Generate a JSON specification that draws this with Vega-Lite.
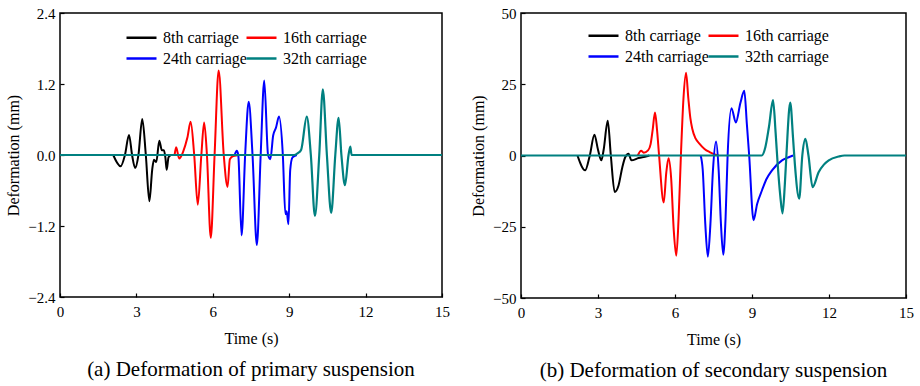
{
  "$schema": "https://vega.github.io/schema/vega-lite/v6.json",
  "background": "white",
  "padding": {"left": 5, "right": 5, "top": 5, "bottom": 5},
  "spacing": 18,
  "datasets": {
    "a": [
      {"c": "8th carriage", "t": 2.09, "v": 0},
      {"c": "8th carriage", "t": 2.38, "v": -0.19},
      {"c": "8th carriage", "t": 2.55, "v": 0},
      {"c": "8th carriage", "t": 2.71, "v": 0.34},
      {"c": "8th carriage", "t": 2.83, "v": 0},
      {"c": "8th carriage", "t": 2.95, "v": -0.22},
      {"c": "8th carriage", "t": 3.08, "v": 0},
      {"c": "8th carriage", "t": 3.23, "v": 0.61},
      {"c": "8th carriage", "t": 3.37, "v": 0},
      {"c": "8th carriage", "t": 3.51, "v": -0.78},
      {"c": "8th carriage", "t": 3.62, "v": -0.25},
      {"c": "8th carriage", "t": 3.69, "v": -0.08},
      {"c": "8th carriage", "t": 3.78, "v": -0.12},
      {"c": "8th carriage", "t": 3.9, "v": 0.24},
      {"c": "8th carriage", "t": 4.0, "v": 0.08},
      {"c": "8th carriage", "t": 4.08, "v": 0.08},
      {"c": "8th carriage", "t": 4.14, "v": -0.05},
      {"c": "8th carriage", "t": 4.19, "v": -0.25},
      {"c": "8th carriage", "t": 4.26, "v": -0.04},
      {"c": "8th carriage", "t": 4.35, "v": 0},
      {"c": "16th carriage", "t": 4.5, "v": 0},
      {"c": "16th carriage", "t": 4.56, "v": 0.13},
      {"c": "16th carriage", "t": 4.68, "v": -0.06},
      {"c": "16th carriage", "t": 4.83, "v": 0.05},
      {"c": "16th carriage", "t": 5.0, "v": 0.29},
      {"c": "16th carriage", "t": 5.13, "v": 0.56},
      {"c": "16th carriage", "t": 5.27, "v": 0},
      {"c": "16th carriage", "t": 5.41, "v": -0.84},
      {"c": "16th carriage", "t": 5.55, "v": 0},
      {"c": "16th carriage", "t": 5.66, "v": 0.55},
      {"c": "16th carriage", "t": 5.77, "v": 0},
      {"c": "16th carriage", "t": 5.92, "v": -1.4},
      {"c": "16th carriage", "t": 6.07, "v": 0},
      {"c": "16th carriage", "t": 6.23, "v": 1.43},
      {"c": "16th carriage", "t": 6.43, "v": 0},
      {"c": "16th carriage", "t": 6.58, "v": -0.54},
      {"c": "16th carriage", "t": 6.67, "v": -0.07},
      {"c": "16th carriage", "t": 6.8, "v": -0.02},
      {"c": "16th carriage", "t": 7.05, "v": 0},
      {"c": "24th carriage", "t": 6.86, "v": 0},
      {"c": "24th carriage", "t": 6.94, "v": 0.07},
      {"c": "24th carriage", "t": 7.0, "v": 0},
      {"c": "24th carriage", "t": 7.13, "v": -1.36},
      {"c": "24th carriage", "t": 7.27, "v": 0},
      {"c": "24th carriage", "t": 7.41, "v": 0.9},
      {"c": "24th carriage", "t": 7.56, "v": 0},
      {"c": "24th carriage", "t": 7.73, "v": -1.52},
      {"c": "24th carriage", "t": 7.88, "v": 0},
      {"c": "24th carriage", "t": 8.02, "v": 1.26},
      {"c": "24th carriage", "t": 8.17, "v": 0},
      {"c": "24th carriage", "t": 8.26, "v": -0.07},
      {"c": "24th carriage", "t": 8.37, "v": 0.33},
      {"c": "24th carriage", "t": 8.48, "v": 0.46},
      {"c": "24th carriage", "t": 8.6, "v": 0.65},
      {"c": "24th carriage", "t": 8.75, "v": 0},
      {"c": "24th carriage", "t": 8.85, "v": -1.0},
      {"c": "24th carriage", "t": 8.9, "v": -0.95},
      {"c": "24th carriage", "t": 8.97, "v": -1.17},
      {"c": "24th carriage", "t": 9.04, "v": -0.25},
      {"c": "24th carriage", "t": 9.13, "v": -0.04},
      {"c": "24th carriage", "t": 9.3, "v": 0},
      {"c": "32th carriage", "t": 0, "v": 0},
      {"c": "32th carriage", "t": 9.2, "v": 0},
      {"c": "32th carriage", "t": 9.34, "v": 0.03},
      {"c": "32th carriage", "t": 9.47, "v": 0.09},
      {"c": "32th carriage", "t": 9.69, "v": 0.65},
      {"c": "32th carriage", "t": 9.85, "v": 0},
      {"c": "32th carriage", "t": 10.01, "v": -1.03},
      {"c": "32th carriage", "t": 10.18, "v": 0},
      {"c": "32th carriage", "t": 10.32, "v": 1.11},
      {"c": "32th carriage", "t": 10.48, "v": 0},
      {"c": "32th carriage", "t": 10.65, "v": -0.98},
      {"c": "32th carriage", "t": 10.81, "v": 0},
      {"c": "32th carriage", "t": 10.94, "v": 0.63},
      {"c": "32th carriage", "t": 11.05, "v": 0},
      {"c": "32th carriage", "t": 11.19, "v": -0.51},
      {"c": "32th carriage", "t": 11.33, "v": 0},
      {"c": "32th carriage", "t": 11.4, "v": 0.14},
      {"c": "32th carriage", "t": 11.45, "v": 0},
      {"c": "32th carriage", "t": 15, "v": 0}
    ],
    "b": [
      {"c": "8th carriage", "t": 2.2, "v": 0},
      {"c": "8th carriage", "t": 2.5, "v": -5.2},
      {"c": "8th carriage", "t": 2.68, "v": 0},
      {"c": "8th carriage", "t": 2.86, "v": 7.3},
      {"c": "8th carriage", "t": 3.0, "v": 2},
      {"c": "8th carriage", "t": 3.13, "v": -1.7},
      {"c": "8th carriage", "t": 3.22, "v": 2},
      {"c": "8th carriage", "t": 3.38, "v": 12.2},
      {"c": "8th carriage", "t": 3.5, "v": 0},
      {"c": "8th carriage", "t": 3.65, "v": -12.8},
      {"c": "8th carriage", "t": 3.8, "v": -10.5},
      {"c": "8th carriage", "t": 3.95, "v": -4},
      {"c": "8th carriage", "t": 4.06, "v": -0.6},
      {"c": "8th carriage", "t": 4.19, "v": 0.6},
      {"c": "8th carriage", "t": 4.3, "v": -1.7},
      {"c": "8th carriage", "t": 4.58, "v": -0.9},
      {"c": "8th carriage", "t": 4.9, "v": -0.3},
      {"c": "8th carriage", "t": 5.0, "v": 0},
      {"c": "16th carriage", "t": 4.55, "v": 0},
      {"c": "16th carriage", "t": 4.68, "v": 1.7},
      {"c": "16th carriage", "t": 4.78, "v": 1.0},
      {"c": "16th carriage", "t": 4.95, "v": 1.8},
      {"c": "16th carriage", "t": 5.05, "v": 4},
      {"c": "16th carriage", "t": 5.13, "v": 9},
      {"c": "16th carriage", "t": 5.22, "v": 15.1},
      {"c": "16th carriage", "t": 5.3, "v": 9},
      {"c": "16th carriage", "t": 5.38, "v": 0},
      {"c": "16th carriage", "t": 5.56, "v": -16.5},
      {"c": "16th carriage", "t": 5.66, "v": -6},
      {"c": "16th carriage", "t": 5.75, "v": -1.0},
      {"c": "16th carriage", "t": 5.85, "v": -8},
      {"c": "16th carriage", "t": 5.95, "v": -26},
      {"c": "16th carriage", "t": 6.05, "v": -35.2},
      {"c": "16th carriage", "t": 6.14, "v": -22},
      {"c": "16th carriage", "t": 6.23, "v": 0},
      {"c": "16th carriage", "t": 6.33, "v": 20},
      {"c": "16th carriage", "t": 6.43, "v": 29},
      {"c": "16th carriage", "t": 6.52, "v": 20},
      {"c": "16th carriage", "t": 6.6, "v": 13},
      {"c": "16th carriage", "t": 6.67, "v": 9.5},
      {"c": "16th carriage", "t": 6.8, "v": 6},
      {"c": "16th carriage", "t": 6.95, "v": 4.2},
      {"c": "16th carriage", "t": 7.15, "v": 2.3},
      {"c": "16th carriage", "t": 7.35, "v": 1.2},
      {"c": "16th carriage", "t": 7.55, "v": 0.4},
      {"c": "16th carriage", "t": 7.7, "v": 0},
      {"c": "24th carriage", "t": 7.0, "v": 0},
      {"c": "24th carriage", "t": 7.08, "v": -5},
      {"c": "24th carriage", "t": 7.18, "v": -24},
      {"c": "24th carriage", "t": 7.28, "v": -35.5},
      {"c": "24th carriage", "t": 7.38, "v": -24},
      {"c": "24th carriage", "t": 7.48, "v": -5},
      {"c": "24th carriage", "t": 7.6, "v": 4.9},
      {"c": "24th carriage", "t": 7.7, "v": -5},
      {"c": "24th carriage", "t": 7.79, "v": -24},
      {"c": "24th carriage", "t": 7.88, "v": -34.8},
      {"c": "24th carriage", "t": 7.97, "v": -22},
      {"c": "24th carriage", "t": 8.05, "v": 0},
      {"c": "24th carriage", "t": 8.2, "v": 16.6},
      {"c": "24th carriage", "t": 8.37, "v": 11.6},
      {"c": "24th carriage", "t": 8.55, "v": 18.5},
      {"c": "24th carriage", "t": 8.7, "v": 22.7},
      {"c": "24th carriage", "t": 8.8, "v": 11},
      {"c": "24th carriage", "t": 8.89, "v": 0},
      {"c": "24th carriage", "t": 9.06, "v": -22.7},
      {"c": "24th carriage", "t": 9.2, "v": -17},
      {"c": "24th carriage", "t": 9.39, "v": -12.2},
      {"c": "24th carriage", "t": 9.55, "v": -8.5},
      {"c": "24th carriage", "t": 9.78, "v": -5.2},
      {"c": "24th carriage", "t": 10.17, "v": -1.7},
      {"c": "24th carriage", "t": 10.43, "v": -0.6},
      {"c": "24th carriage", "t": 10.6, "v": 0},
      {"c": "32th carriage", "t": 0, "v": 0},
      {"c": "32th carriage", "t": 9.38, "v": 0},
      {"c": "32th carriage", "t": 9.52, "v": 2.9},
      {"c": "32th carriage", "t": 9.66, "v": 10},
      {"c": "32th carriage", "t": 9.82, "v": 19.4},
      {"c": "32th carriage", "t": 9.92, "v": 8},
      {"c": "32th carriage", "t": 10.0, "v": -3},
      {"c": "32th carriage", "t": 10.1, "v": -14},
      {"c": "32th carriage", "t": 10.19, "v": -20.3},
      {"c": "32th carriage", "t": 10.28, "v": -10},
      {"c": "32th carriage", "t": 10.34, "v": 0},
      {"c": "32th carriage", "t": 10.49, "v": 18.6},
      {"c": "32th carriage", "t": 10.6, "v": 6},
      {"c": "32th carriage", "t": 10.67, "v": -3},
      {"c": "32th carriage", "t": 10.84, "v": -15.1},
      {"c": "32th carriage", "t": 10.96, "v": 0},
      {"c": "32th carriage", "t": 11.08, "v": 5.8},
      {"c": "32th carriage", "t": 11.2, "v": 0},
      {"c": "32th carriage", "t": 11.36, "v": -11.1},
      {"c": "32th carriage", "t": 11.6, "v": -5.8},
      {"c": "32th carriage", "t": 11.8, "v": -3.2},
      {"c": "32th carriage", "t": 11.99, "v": -1.7},
      {"c": "32th carriage", "t": 12.38, "v": -0.35},
      {"c": "32th carriage", "t": 12.6, "v": 0},
      {"c": "32th carriage", "t": 15, "v": 0}
    ]
  },
  "config": {
    "font": "Liberation Serif",
    "view": {"stroke": "black", "strokeWidth": 1.5},
    "axis": {
      "grid": false,
      "domain": false,
      "labelFont": "Liberation Serif",
      "labelFontSize": 15,
      "labelColor": "black",
      "titleFont": "Liberation Serif",
      "titleFontSize": 16,
      "titleFontWeight": "normal",
      "titleColor": "black",
      "tickColor": "black",
      "tickWidth": 1.2,
      "tickSize": -4,
      "labelFlush": false,
      "labelOverlap": false
    },
    "axisX": {"labelPadding": 11, "titlePadding": 11},
    "axisY": {"labelPadding": 9, "titlePadding": 6},
    "legend": {
      "orient": "none",
      "direction": "horizontal",
      "columns": 2,
      "title": null,
      "padding": 0,
      "symbolType": "M-1.5,0H1.5",
      "symbolSize": 400,
      "symbolStrokeWidth": 2.5,
      "labelFont": "Liberation Serif",
      "labelFontSize": 16,
      "labelColor": "black",
      "labelOffset": 10,
      "columnPadding": -6,
      "rowPadding": 1
    },
    "title": {
      "font": "Liberation Serif",
      "fontSize": 21,
      "fontWeight": "normal",
      "color": "black"
    }
  },
  "hconcat": [
    {
      "width": 382,
      "height": 284,
      "title": {"text": "(a)  Deformation of primary suspension", "orient": "bottom", "anchor": "middle", "offset": 13},
      "data": {"name": "a"},
      "encoding": {
        "x": {"field": "t", "type": "quantitative", "scale": {"domain": [0, 15], "nice": false}, "axis": {"values": [0, 3, 6, 9, 12, 15], "title": "Time (s)", "labelFont": "Liberation Serif", "titleFont": "Liberation Serif"}},
        "y": {"field": "v", "type": "quantitative", "scale": {"domain": [-2.4, 2.4], "nice": false}, "axis": {"values": [-2.4, -1.2, 0, 1.2, 2.4], "format": ".1f", "title": "Deformation (mm)", "labelFont": "Liberation Serif", "titleFont": "Liberation Serif"}},
        "color": {"field": "c", "type": "nominal", "scale": {"domain": ["8th carriage", "16th carriage", "24th carriage", "32th carriage"], "range": ["#000000", "#ff0000", "#0000ff", "#008080"]}, "legend": {"legendX": 70, "legendY": 13, "labelFont": "Liberation Serif"}}
      },
      "layer": [
        {"transform": [{"filter": "datum.c === '8th carriage'"}], "mark": {"type": "line", "interpolate": "monotone", "strokeWidth": 2}},
        {"transform": [{"filter": "datum.c === '16th carriage'"}], "mark": {"type": "line", "interpolate": "monotone", "strokeWidth": 2}},
        {"transform": [{"filter": "datum.c === '24th carriage'"}], "mark": {"type": "line", "interpolate": "monotone", "strokeWidth": 2}},
        {"transform": [{"filter": "datum.c === '32th carriage'"}], "mark": {"type": "line", "interpolate": "monotone", "strokeWidth": 2.2}}
      ]
    },
    {
      "width": 385,
      "height": 285,
      "title": {"text": "(b)  Deformation of secondary suspension", "orient": "bottom", "anchor": "middle", "offset": 13},
      "data": {"name": "b"},
      "encoding": {
        "x": {"field": "t", "type": "quantitative", "scale": {"domain": [0, 15], "nice": false}, "axis": {"values": [0, 3, 6, 9, 12, 15], "title": "Time (s)", "labelFont": "Liberation Serif", "titleFont": "Liberation Serif"}},
        "y": {"field": "v", "type": "quantitative", "scale": {"domain": [-50, 50], "nice": false}, "axis": {"values": [-50, -25, 0, 25, 50], "title": "Deformation (mm)", "labelFont": "Liberation Serif", "titleFont": "Liberation Serif"}},
        "color": {"field": "c", "type": "nominal", "scale": {"domain": ["8th carriage", "16th carriage", "24th carriage", "32th carriage"], "range": ["#000000", "#ff0000", "#0000ff", "#008080"]}, "legend": {"legendX": 71, "legendY": 11, "labelFont": "Liberation Serif"}}
      },
      "layer": [
        {"transform": [{"filter": "datum.c === '8th carriage'"}], "mark": {"type": "line", "interpolate": "monotone", "strokeWidth": 2}},
        {"transform": [{"filter": "datum.c === '16th carriage'"}], "mark": {"type": "line", "interpolate": "monotone", "strokeWidth": 2}},
        {"transform": [{"filter": "datum.c === '24th carriage'"}], "mark": {"type": "line", "interpolate": "monotone", "strokeWidth": 2}},
        {"transform": [{"filter": "datum.c === '32th carriage'"}], "mark": {"type": "line", "interpolate": "monotone", "strokeWidth": 2.2}}
      ]
    }
  ],
  "resolve": {"scale": {"color": "independent", "y": "independent"}, "legend": {"color": "independent"}}
}
